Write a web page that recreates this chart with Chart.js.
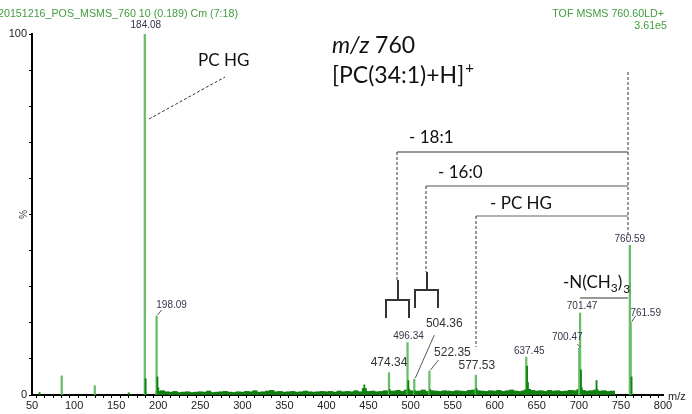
<!DOCTYPE html>
<html>
<head>
<meta charset="utf-8">
<script src="https://cdn.jsdelivr.net/npm/chart.js@4.4.1/dist/chart.umd.min.js"></script>
<style>
  html, body { margin: 0; padding: 0; background: #fff; }
  #wrap { width: 692px; height: 414px; }
</style>
</head>
<body>
<div id="wrap"><canvas id="spectrum" width="692" height="414"></canvas></div>
<script>
// MS/MS spectrum, precursor m/z 760 [PC(34:1)+H]+

// main peaks (light green sticks)
const peakMz  = [85.3, 124.6, 184.08, 198.09, 474.34, 496.34, 504.36, 522.35, 577.53, 637.45, 700.47, 701.47, 760.59, 761.59];
const peakInt = [5.3,  2.6,   100,    21.9,   6.2,    14.5,   4.4,    6.6,    5.5,    10.5,   13.0,   22.7,   41.5,   20.0];

// isotope / shoulder peaks (dark green)
const minorMz  = [59, 165, 185.08, 199.09, 200.1, 445.0, 475.34, 497.34, 498.3, 505.36, 523.35, 578.5, 636.4, 638.45, 639.45, 640.4, 702.47, 703.5, 721.0, 722.0, 762.6];
const minorInt = [0.7, 0.6, 4.5,   5.0,    2.0,   2.8,   1.5,    4.0,    1.6,   1.2,    1.5,    1.8,   1.5,   8.0,    3.5,    1.6,   7.0,    2.0,   4.0,   1.5,   5.0];

// baseline noise
const noiseMz = [200,205,210,215,220,225,230,235,240,245,250,255,260,265,270,275,280,285,290,295,
                 300,305,310,315,320,325,330,335,340,345,350,355,360,365,370,375,380,385,390,395,
                 400,405,410,415,420,425,430,435,440,445,450,455,460,465,470,475,480,485,490,495,
                 500,505,510,515,520,525,530,535,540,545,550,555,560,565,570,575,580,585,590,595,
                 600,605,610,615,620,625,630,635,640,645,650,655,660,665,670,675,680,685,690,695,
                 700,705,710,715,720,725,730,735,740];
const noiseInt = [1.0,1.2,0.9,0.8,1.0,0.7,0.8,0.9,0.7,0.8,0.9,0.8,1.1,0.7,0.8,0.9,1.0,0.8,0.7,0.9,
                  0.8,1.0,0.9,1.2,0.8,0.9,1.1,1.3,0.9,1.0,0.8,0.9,1.0,0.8,0.9,1.1,0.9,0.8,0.9,1.0,
                  0.9,1.0,0.8,1.1,0.9,1.0,0.9,1.2,0.9,1.8,1.0,1.1,0.9,1.0,1.2,1.0,1.1,1.3,1.0,1.4,
                  1.2,1.0,1.1,1.4,1.0,1.2,1.1,1.0,1.2,1.1,1.0,1.2,1.1,1.0,1.3,1.4,1.2,1.1,1.0,1.2,
                  1.1,1.3,1.0,1.2,1.4,1.1,1.0,1.2,1.6,1.3,1.1,1.2,1.0,1.3,1.1,1.2,1.0,1.1,1.3,1.2,
                  1.5,1.3,1.1,1.2,1.4,1.1,1.2,1.0,1.1];

// labelled peaks
const labelMz   = [184.08, 198.09, 474.34, 496.34, 504.36, 522.35, 577.53, 637.45, 700.47, 701.47, 760.59, 761.59];
const labelText = ['184.08', '198.09', '474.34', '496.34', '504.36', '522.35', '577.53', '637.45', '700.47', '701.47', '760.59', '761.59'];

// axis tick labels
const xTickLabels = [50, 100, 150, 200, 250, 300, 350, 400, 450, 500, 550, 600, 650, 700, 750, 800];
const yTickLabels = [0, 100];

// where each label sits relative to its peak top (dx, dy), optional leader line start, big = pasted-on label
const labelPlace = {
  '184.08': { dx: 1,   dy: -9 },
  '198.09': { dx: 15,  dy: -11, lead: [5, -6] },
  '474.34': { dx: 0,   dy: -10, big: true },
  '496.34': { dx: 1,   dy: -6 },
  '504.36': { dx: 30,  dy: -55, big: true, lead: [20, -44] },
  '522.35': { dx: 23,  dy: -18, big: true, lead: [9, -11] },
  '577.53': { dx: 1,   dy: -9,  big: true },
  '637.45': { dx: 3,   dy: -6 },
  '700.47': { dx: -12, dy: -11, lead: [-2, -4] },
  '701.47': { dx: 2,   dy: -7 },
  '760.59': { dx: 0,   dy: -6 },
  '761.59': { dx: 15,  dy: -10, lead: [5, -7] }
};

const GREEN_TXT = '#3f9d3f';
const LABEL_COL = '#34344a';
const ANNOT = '#333';

function pts(xs, ys) {
  return xs.map((x, i) => ({ x: x, y: ys[i] }));
}

function seg(ctx, x1, y1, x2, y2, w, col, dash) {
  ctx.save();
  ctx.beginPath();
  ctx.lineWidth = w;
  ctx.strokeStyle = col;
  ctx.setLineDash(dash || []);
  ctx.moveTo(x1, y1);
  ctx.lineTo(x2, y2);
  ctx.stroke();
  ctx.restore();
}

function poly(ctx, list, w, col) {
  ctx.save();
  ctx.beginPath();
  ctx.lineWidth = w;
  ctx.strokeStyle = col;
  ctx.moveTo(list[0][0], list[0][1]);
  for (let i = 1; i < list.length; i++) ctx.lineTo(list[i][0], list[i][1]);
  ctx.stroke();
  ctx.restore();
}

function txt(ctx, s, x, y, font, col, align) {
  ctx.font = font;
  ctx.fillStyle = col;
  ctx.textAlign = align || 'left';
  ctx.textBaseline = 'middle';
  ctx.fillText(s, x, y);
  return ctx.measureText(s).width;
}

const annotations = {
  id: 'annotations',
  afterDraw(chart) {
    const ctx = chart.ctx;
    const xs = chart.scales.x, ys = chart.scales.y;
    const dash = [3, 2];

    // header lines
    txt(ctx, '20151216_POS_MSMS_760 10 (0.189) Cm (7:18)', -2, 14, '10.7px "Liberation Sans", Arial', GREEN_TXT);
    txt(ctx, 'TOF MSMS 760.60LD+', 664, 14, '10.7px "Liberation Sans", Arial', GREEN_TXT, 'right');
    txt(ctx, '3.61e5', 667, 26, '10.7px "Liberation Sans", Arial', GREEN_TXT, 'right');

    // axis extras
    txt(ctx, 'm/z', 668, 397, '11px "Liberation Sans", Arial', '#222');
    ctx.save();
    ctx.translate(22, ys.getPixelForValue(50));
    ctx.rotate(Math.PI / 2);
    txt(ctx, '%', 0, 0, '10px "Liberation Sans", Arial', '#444', 'center');
    ctx.restore();

    // peak labels
    labelMz.forEach((mz, i) => {
      const p = labelPlace[labelText[i]];
      const k = peakMz.indexOf(mz);
      const px = xs.getPixelForValue(mz);
      const py = ys.getPixelForValue(peakInt[k]);
      const font = p.big ? '12px "Liberation Sans", Arial' : '10px "Liberation Sans", Arial';
      txt(ctx, labelText[i], px + p.dx, py + p.dy, font, p.big ? '#333' : LABEL_COL, 'center');
      if (p.lead) seg(ctx, px + p.lead[0], py + p.lead[1], px + 1, py - 1, 1, '#555');
    });

    // title
    const fTitle = '23px Lato, "Open Sans", sans-serif';
    let w = txt(ctx, 'm/z', 332, 46, 'italic ' + fTitle, '#111');
    txt(ctx, ' 760', 332 + w, 46, fTitle, '#111');
    w = txt(ctx, '[PC(34:1)+H]', 332, 76, fTitle, '#111');
    txt(ctx, '+', 332 + w + 1, 68, '15px Lato, sans-serif', '#111');

    // PC HG fragment
    txt(ctx, 'PC HG', 198, 61, '17px Lato, "Open Sans", sans-serif', '#111');
    seg(ctx, 149, 119, 225, 77, 1, ANNOT, dash);

    // neutral-loss brackets
    const fLoss = '17px Lato, "Open Sans", sans-serif';
    seg(ctx, 628, 72, 628, 238, 1, ANNOT, dash);
    txt(ctx, '- 18:1', 409, 138, fLoss, '#111');
    seg(ctx, 397, 152, 628, 152, 1.2, ANNOT);
    seg(ctx, 397, 152, 397, 280, 1, ANNOT, dash);
    txt(ctx, '- 16:0', 438, 173, fLoss, '#111');
    seg(ctx, 426, 186, 628, 186, 1.2, '#555');
    seg(ctx, 426, 186, 426, 272, 1, ANNOT, dash);
    txt(ctx, '- PC HG', 490, 204, fLoss, '#111');
    seg(ctx, 476, 216, 628, 216, 1.2, '#666');
    seg(ctx, 476, 216, 476, 347, 1, ANNOT, dash);

    // forks over the 18:1 / 16:0 loss products
    seg(ctx, 398, 280, 398, 300, 2, ANNOT);
    poly(ctx, [[386, 318], [386, 300], [409, 300], [409, 318]], 2, ANNOT);
    seg(ctx, 427, 272, 427, 290, 2, ANNOT);
    poly(ctx, [[415, 308], [415, 290], [438, 290], [438, 308]], 2, ANNOT);

    // -N(CH3)3
    const fSub = '12px Lato, "Open Sans", sans-serif';
    let x = 563;
    x += txt(ctx, '-N(CH', x, 283, fLoss, '#111');
    x += txt(ctx, '3', x, 288, fSub, '#111');
    x += txt(ctx, ')', x, 283, fLoss, '#111');
    txt(ctx, '3', x + 1, 289, fSub, '#111');
    seg(ctx, 580, 298, 628, 298, 1.2, ANNOT);
  }
};

new Chart(document.getElementById('spectrum'), {
  type: 'bar',
  data: {
    datasets: [
      { label: 'isotopes', data: pts(minorMz, minorInt), backgroundColor: '#0d850d', barThickness: 1.2, order: 0 },
      { label: 'peaks', data: pts(peakMz, peakInt), backgroundColor: '#68bd68', barThickness: 1.6, order: 1 },
      { label: 'noise', data: pts(noiseMz, noiseInt), backgroundColor: '#117f11', barThickness: 4.4, order: 2 }
    ]
  },
  options: {
    responsive: false,
    animation: false,
    devicePixelRatio: 1,
    datasets: { bar: { grouped: false, borderWidth: 0 } },
    layout: { padding: { top: 34, right: 29, left: 0, bottom: 0 } },
    plugins: { legend: { display: false }, tooltip: { enabled: false } },
    scales: {
      x: {
        type: 'linear', min: 50, max: 800, offset: false,
        afterFit: s => { s.height = 19; },
        border: { display: true, color: '#000', width: 2 },
        grid: { display: true, drawOnChartArea: false, drawTicks: true, tickLength: 3, color: '#000' },
        ticks: {
          stepSize: 10, autoSkip: false, maxRotation: 0, minRotation: 0, padding: 1,
          color: '#222', font: { family: '"Liberation Sans", Arial', size: 11 },
          callback: v => xTickLabels.includes(v) ? String(v) : ''
        }
      },
      y: {
        min: 0, max: 100,
        afterFit: s => { s.width = 32; },
        border: { display: true, color: '#000', width: 2 },
        grid: { display: true, drawOnChartArea: false, drawTicks: true, tickLength: 3, color: '#000' },
        ticks: {
          stepSize: 10, autoSkip: false, padding: 2,
          color: '#222', font: { family: '"Liberation Sans", Arial', size: 11 },
          callback: v => yTickLabels.includes(v) ? String(v) : ''
        }
      }
    }
  },
  plugins: [annotations]
});
</script>
</body>
</html>
